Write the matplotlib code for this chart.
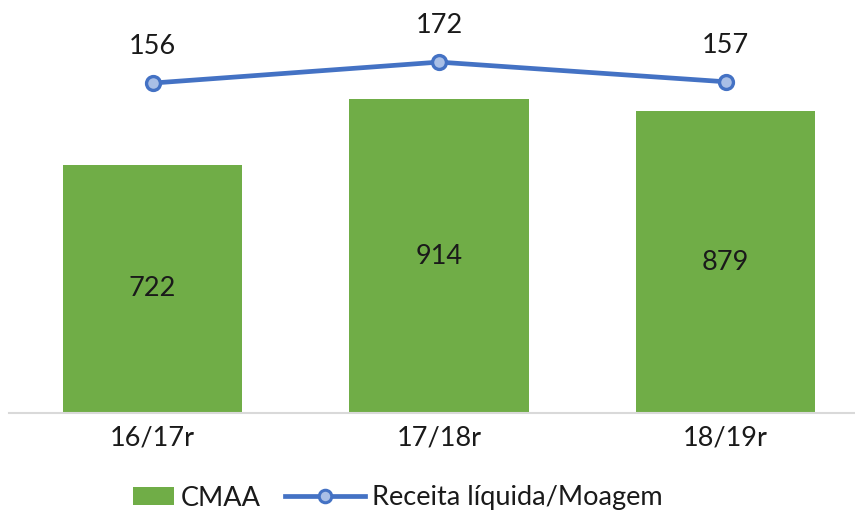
import matplotlib
matplotlib.use("Agg")
import matplotlib.pyplot as plt
from matplotlib.lines import Line2D
from matplotlib.patches import Patch, Rectangle
from matplotlib.legend_handler import HandlerBase

categories = ["16/17r", "17/18r", "18/19r"]
cmaa = [722, 914, 879]
receita = [156, 172, 157]

plt.rcParams['font.family'] = ['Lato', 'DejaVu Sans']
FS = 19.5
TXT = "#1a1a1a"

W, H = 855, 518
fig = plt.figure(figsize=(W/100, H/100), dpi=100)
base_px = 413
left_px = 9.25
width_px = 859.5
height_px = 412.2
ax = fig.add_axes([left_px/W, (H-base_px)/H, width_px/W, height_px/H])
ax2 = ax.twinx()

x = range(len(categories))
ax.bar(x, cmaa, width=0.625, color="#70AD47", zorder=2)
ax.set_ylim(0, 1200)
ax.set_xlim(-0.5, 2.5)
for xi, v in zip(x, cmaa):
    ax.text(xi, v/2, f"{v}", ha="center", va="center", fontsize=FS, color=TXT)

ax2.plot(x, receita, color="#4472C4", lw=3.4, marker="o", markersize=10,
         markerfacecolor="#A9BFE6", markeredgecolor="#4472C4", markeredgewidth=2.4, zorder=3)
ax2.set_ylim(-95.4, -95.4 + 314.1)
for xi, v in zip(x, receita):
    ax2.annotate(f"{v}", (xi, v), xytext=(0, 26), textcoords="offset points",
                 ha="center", va="center", fontsize=FS, color=TXT)

for a in (ax, ax2):
    for s in ["top", "right", "left", "bottom"]:
        a.spines[s].set_visible(False)
    a.set_yticks([])
ax.spines["bottom"].set_visible(True)
ax.spines["bottom"].set_color("#D9D9D9")
ax.spines["bottom"].set_linewidth(1.5)
ax.set_xticks(list(x))
ax.set_xticklabels(categories, fontsize=FS, color=TXT)
ax.tick_params(axis="x", length=0, pad=9)
ax2.tick_params(axis="x", length=0)


class HandlerShortPatch(HandlerBase):
    def create_artists(self, legend, orig_handle, xdescent, ydescent, width, height, fontsize, trans):
        w = 29
        r = Rectangle((-xdescent + width - w, -ydescent + height*0.05), w, height*0.9,
                      facecolor=orig_handle.get_facecolor(), edgecolor="none", transform=trans)
        return [r]


handles = [Patch(facecolor="#70AD47", edgecolor="none"),
           Line2D([0], [0], color="#4472C4", lw=3.4, marker="o", markersize=9,
                  markerfacecolor="#A9BFE6", markeredgecolor="#4472C4", markeredgewidth=2.2)]
fig.legend(handles, ["CMAA", "Receita líquida/Moagem"], loc="center",
           bbox_to_anchor=(378/W, 1-498/H), ncol=2, frameon=False, fontsize=FS,
           handlelength=2.95, handletextpad=0.25, columnspacing=0.9,
           handler_map={Patch: HandlerShortPatch()}, labelcolor=TXT)

fig.savefig("out.png", dpi=100)
